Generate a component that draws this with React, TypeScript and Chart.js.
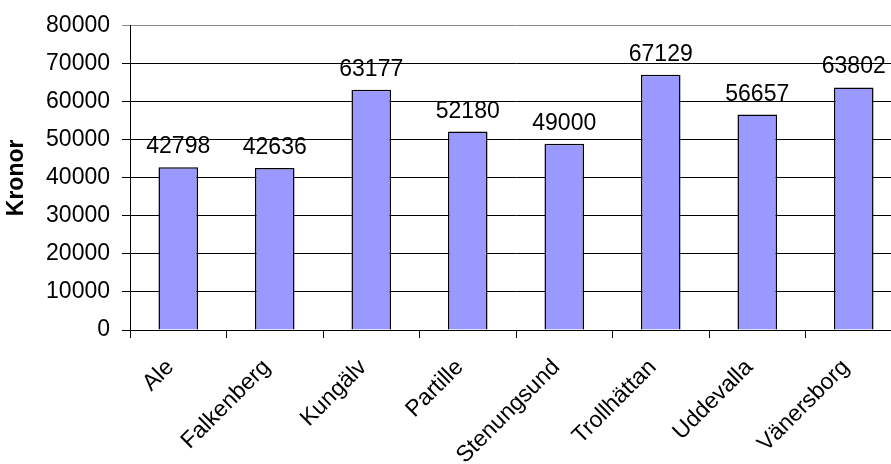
import React, { useEffect, useRef } from "react";
import { Chart, registerables } from "chart.js";

Chart.register(...registerables);

const categories = ["Ale", "Falkenberg", "Kungälv", "Partille", "Stenungsund", "Trollhättan", "Uddevalla", "Vänersborg"];
const values = [42798, 42636, 63177, 52180, 49000, 67129, 56657, 63802];
const yTitle = "Kronor";
const yMin = 0;
const yMax = 80000;
const yStep = 10000;

const FONT = "'Liberation Sans', Arial, sans-serif";

const valueLabels = {
  id: "valueLabels",
  afterDatasetsDraw(chart: any) {
    const ctx = chart.ctx;
    const meta = chart.getDatasetMeta(0);
    ctx.save();
    ctx.font = `23px ${FONT}`;
    ctx.fillStyle = "#000";
    ctx.textAlign = "center";
    ctx.textBaseline = "alphabetic";
    meta.data.forEach((bar: any, i: number) => {
      ctx.fillText(String(values[i]), bar.x, bar.y - 14);
    });
    ctx.restore();
  },
};

export default function App() {
  const ref = useRef<HTMLCanvasElement>(null);
  useEffect(() => {
    const chart = new Chart(ref.current!, {
      type: "bar",
      data: {
        labels: categories,
        datasets: [
          {
            data: values,
            backgroundColor: "#9999FF",
            borderColor: "#000000",
            borderWidth: 1.5,
            barPercentage: 0.41,
            categoryPercentage: 1,
          },
        ],
      },
      options: {
        animation: false,
        responsive: false,
        maintainAspectRatio: false,
        layout: { padding: { top: 23, right: 8, left: 0, bottom: 0 } },
        plugins: { legend: { display: false }, tooltip: { enabled: false } },
        scales: {
          x: {
            afterFit(scale: any) {
              scale.height = 134;
            },
            grid: {
              display: true,
              drawOnChartArea: false,
              offset: true,
              tickLength: 8,
              color: "#000",
              lineWidth: 1,
            },
            border: { color: "#000", width: 1 },
            ticks: {
              maxRotation: 45,
              minRotation: 45,
              color: "#000",
              font: { family: FONT, size: 23 },
              padding: 16,
              labelOffset: -8,
              autoSkip: false,
            },
          },
          y: {
            min: yMin,
            max: yMax,
            afterFit(scale: any) {
              scale.width = 130;
            },
            grid: {
              color: (c: any) => (c.tick && c.tick.value === yMax ? "#888" : "#000"),
              lineWidth: 1,
              tickLength: 8,
            },
            border: { color: "#000", width: 1 },
            ticks: {
              stepSize: yStep,
              color: "#000",
              font: { family: FONT, size: 23 },
              padding: 12,
              callback: (v: any) => String(v),
            },
            title: {
              display: true,
              text: yTitle,
              color: "#000",
              font: { family: FONT, size: 23, weight: "bold" },
              padding: { top: 3, bottom: 0 },
            },
          },
        },
      },
      plugins: [valueLabels],
    });
    return () => chart.destroy();
  }, []);
  return (
    <div style={{ position: "fixed", top: 0, left: 0, width: 891, height: 464, overflow: "hidden", background: "#fff" }}>
      <canvas ref={ref} width={910} height={464} style={{ display: "block" }} />
    </div>
  );
}
